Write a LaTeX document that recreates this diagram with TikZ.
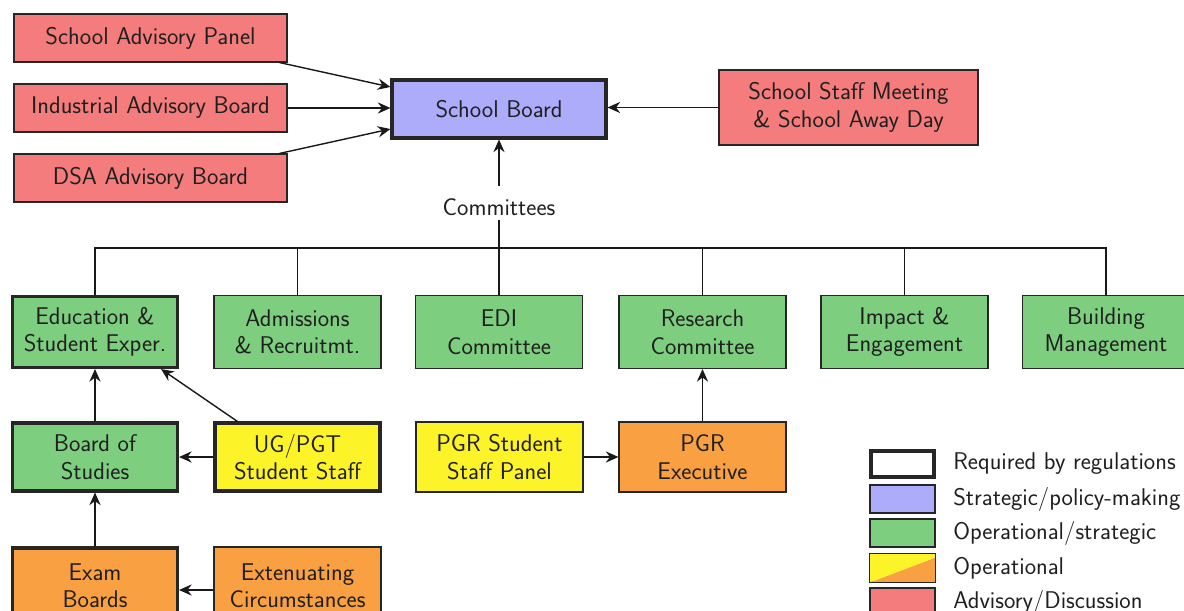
\documentclass[tikz,border=0pt]{standalone}
\usepackage{fontspec}
\usetikzlibrary{arrows.meta}
\definecolor{advisory}{RGB}{245,124,124}
\definecolor{strategic}{RGB}{172,172,250}
\definecolor{operstrat}{RGB}{126,206,128}
\definecolor{operyel}{RGB}{252,244,40}
\definecolor{operorg}{RGB}{249,160,66}
\begin{document}
\begin{tikzpicture}[x=0.025cm,y=-0.025cm,
  every node/.style={font=\sffamily\fontsize{17.2}{19.5}\selectfont, align=center, text=black!88},
  box/.style={draw=black!85, line width=0.8pt, inner sep=2pt},
  adv/.style={box, fill=advisory, minimum width=6.825cm, minimum height=1.2cm},
  comm/.style={box, fill=operstrat, minimum width=4.175cm, minimum height=1.825cm},
  lower/.style={box, minimum width=4.175cm, minimum height=1.75cm},
  arr/.style={-{Stealth[length=9pt,width=8pt,inset=3pt]}, line width=1pt, draw=black!90},
  link/.style={line width=1pt, draw=black!90},
  legbox/.style={box, minimum width=1.625cm, minimum height=0.7cm},
  legtext/.style={anchor=west, inner sep=0pt}]
\useasboundingbox (0,0) rectangle (1184,611);

% advisory bodies and the school board
\node[adv] (sap) at (150.5,38) {School Advisory Panel};
\node[adv] (iab) at (150.5,108) {Industrial Advisory Board};
\node[adv] (dsa) at (150.5,178) {DSA Advisory Board};
\node[box, line width=2.2pt, fill=strategic, minimum width=5.35cm, minimum height=1.45cm] (sb) at (499,109) {School Board};
\node[box, fill=advisory, minimum width=6.475cm, minimum height=1.875cm] (ssm) at (848.5,107.5) {School Staff Meeting\\\& School Away Day};
\node[inner sep=3pt] (cmt) at (499,207) {Committees};

\draw[arr] ([xshift=-0.2cm]sap.south east) -- ([yshift=0.55cm]sb.west);
\draw[arr] (iab.east) -- (iab.east -| sb.west);
\draw[arr] ([xshift=-0.2cm]dsa.north east) -- ([yshift=-0.5cm]sb.west);
\draw[arr] (ssm.west) -- (ssm.west -| sb.east);
\draw[arr] ([yshift=0.2cm]cmt.north) -- (sb.south);

% committees
\node[comm, line width=2.2pt, minimum width=4.125cm, minimum height=1.775cm] (edu) at (95,332) {Education \&\\Student Exper.};
\node[comm] (adm) at (297.5,332) {Admissions\\\& Recruitmt.};
\node[comm] (edi) at (499,332) {EDI\\Committee};
\node[comm] (res) at (702.5,332) {Research\\Committee};
\node[comm] (imp) at (904.5,332) {Impact \&\\Engagement};
\node[comm] (bld) at (1106,332) {Building\\Management};

\coordinate (bus) at (499,248);
\draw[link] (cmt.south) -- (edi.north);
\draw[link] (edu.north) |- (bld.north |- bus) -- (bld.north);
\draw[link] (adm.north) -- (adm.north |- bus);
\draw[link] (res.north) -- (res.north |- bus);
\draw[link] (imp.north) -- (imp.north |- bus);

% second row
\node[lower, fill=operstrat, line width=2.2pt, minimum width=4.125cm, minimum height=1.7cm] (bos) at (95,457) {Board of\\Studies};
\node[lower, fill=operyel, line width=2.2pt, minimum width=4.125cm, minimum height=1.7cm] (ugp) at (297.5,457) {UG/PGT\\Student Staff};
\node[lower, fill=operyel] (pgs) at (499.5,457) {PGR Student\\Staff Panel};
\node[lower, fill=operorg] (pge) at (702.5,457) {PGR\\Executive};

% third row
\node[lower, fill=operorg, line width=2.2pt, minimum width=4.125cm, minimum height=1.9cm] (exb) at (95,586) {Exam\\Boards};
\node[lower, fill=operorg, minimum height=1.95cm] (ext) at (297.5,586) {Extenuating\\Circumstances};

\draw[arr] (bos.north) -- (edu.south);
\draw[arr] ([xshift=0.6cm]ugp.north west) -- ([xshift=-0.45cm]edu.south east);
\draw[arr] (ugp.west) -- (bos.east);
\draw[arr] (exb.north) -- (bos.south);
\draw[arr] ([yshift=-0.1cm]ext.west) -- ([yshift=-0.1cm]exb.east);
\draw[arr] (pgs.east) -- (pge.west);
\draw[arr] (pge.north) -- (res.south);

% legend
\node[legbox, line width=2.2pt, fill=white, minimum width=1.575cm, minimum height=0.65cm] (l1) at (902.5,464) {};
\node[legbox, fill=strategic] (l2) at (902.5,499) {};
\node[legbox, fill=operstrat] (l3) at (902.5,533) {};
\node[legbox] (l4) at (902.5,568) {};
\fill[operorg] (l4.south west) -- ([yshift=-0.1cm]l4.north east) -- (l4.south east) -- cycle;
\fill[operyel] (l4.south west) -- (l4.north west) -- (l4.north east) -- ([yshift=-0.1cm]l4.north east) -- cycle;
\draw[draw=black!85, line width=0.8pt] (l4.south west) rectangle (l4.north east);
\node[legbox, fill=advisory] (l5) at (902.5,602) {};

\node[legtext] (t1) at (953,464) {Required by regulations};
\node[legtext] (t2) at (953,499) {Strategic/policy-making};
\node[legtext] (t3) at (953,533) {Operational/strategic};
\node[legtext] (t4) at (953,568) {Operational};
\node[legtext] (t5) at (953,602) {Advisory/Discussion};
\end{tikzpicture}
\end{document}
